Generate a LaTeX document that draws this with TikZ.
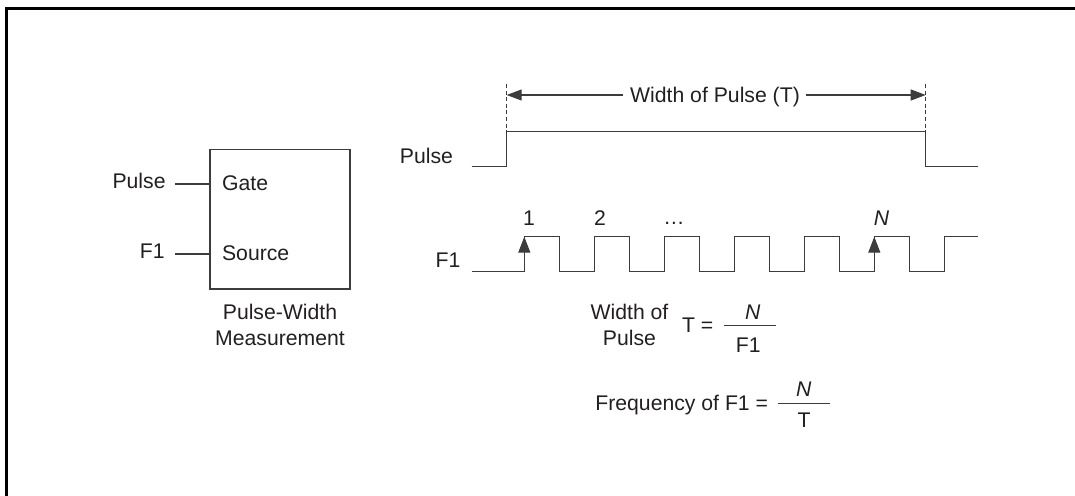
\documentclass[tikz,border=0pt]{standalone}
\usepackage{fontspec}
\setmainfont{Liberation Sans}
\usetikzlibrary{arrows.meta}
\definecolor{ink}{HTML}{231F20}
\definecolor{wirecol}{HTML}{3C3C3C}
\begin{document}
\begin{tikzpicture}[x=0.5pt,y=-0.5pt,
  lbl/.style={inner sep=0pt,text=ink,font=\fontsize{10.6}{12.7}\selectfont},
  wire/.style={draw=wirecol,line width=0.6pt},
  dimtip/.style={-{Triangle[length=7.5pt,width=5.5pt]}},
  edgetip/.style={-{Triangle[length=8pt,width=6pt]}},
  guide/.style={wire,dash pattern=on 2pt off 1.3pt}]
\useasboundingbox (0,0) rectangle (1075,496);
% frame
\draw[black,line width=1.35pt,line join=miter] (6.8,505) -- (6.8,8.7) -- (1085,8.7);

% counter box
\node[draw=wirecol,line width=0.65pt,minimum width=70pt,minimum height=69.85pt,inner sep=0pt] (box) at (280,219.15) {};
\node[lbl,anchor=base east] (pulseL) at (166,188.3) {Pulse};
\node[lbl,anchor=base east] (f1L) at (165,259) {F1};
\coordinate (gateIn) at (175.3,184);
\coordinate (srcIn) at (175.3,254);
\draw[wire] (gateIn) -- (gateIn -| box.west);
\draw[wire] (srcIn) -- (srcIn -| box.west);
\node[lbl,anchor=base west] (gate) at (221.7,190.8) {Gate};
\node[lbl,anchor=base west] (source) at (221.7,260.3) {Source};
\node[lbl,anchor=base] (cap1) at (280,320) {Pulse-Width};
\node[lbl,anchor=base] (cap2) at (280,346) {Measurement};

% pulse waveform
\node[lbl,anchor=base east] (pulseR) at (453.3,163.3) {Pulse};
\draw[wire] (471.7,166.7) -- (506.7,166.7) -- (506.7,131.7) -- (925.7,131.7) -- (925.7,166.7) -- (978,166.7);
\draw[guide] (506.7,84) -- (506.7,131.7);
\draw[guide] (925.7,84) -- (925.7,131.7);
\node[lbl,anchor=base] (wop) at (715,103) {Width of Pulse (T)};
\coordinate (dl) at (506.7,95);
\coordinate (dr) at (925.7,95);
\draw[wire,dimtip] (623,95) -- (dl);
\draw[wire,dimtip] (806,95) -- (dr);

% F1 waveform
\node[lbl,anchor=base east] (f1R) at (460.7,267.7) {F1};
\draw[wire] (471.7,271.7)
  foreach \k in {0,...,5} { -- ({524.3+70*\k},271.7) -- ({524.3+70*\k},236.7) -- ({559.3+70*\k},236.7) -- ({559.3+70*\k},271.7) }
  -- (944.3,271.7) -- (944.3,236.7) -- (978,236.7);
\draw[wire,edgetip] (524.3,256) -- (524.3,236.7);
\draw[wire,edgetip] (874.3,256) -- (874.3,236.7);
\node[lbl,anchor=base] (n1) at (529,225.5) {1};
\node[lbl,anchor=base] (n2) at (600,225.5) {2};
\node[lbl,anchor=base] (ndots) at (674,225) {…};
\node[lbl,anchor=base] (nN) at (881.5,225.5) {\textit{N}};

% formula 1
\node[lbl,anchor=base] (w1) at (629.5,320) {Width of};
\node[lbl,anchor=base] (w2) at (629.5,346) {Pulse};
\node[lbl,anchor=base west] (teq) at (681.7,332.7) {T =};
\coordinate (b1l) at (724,325.7);
\coordinate (b1r) at (776,325.7);
\draw[wire] (b1l) -- (b1r);
\node[lbl,anchor=base] (num1) at (752.8,319.5) {\textit{N}};
\node[lbl,anchor=base] (den1) at (748.3,352) {F1};

% formula 2
\node[lbl,anchor=base west] (freq) at (595,410) {Frequency of F1 =};
\coordinate (b2l) at (778.3,403.3);
\coordinate (b2r) at (830,403.3);
\draw[wire] (b2l) -- (b2r);
\node[lbl,anchor=base] (num2) at (803.8,396) {\textit{N}};
\node[lbl,anchor=base] (den2) at (804,427) {T};
\end{tikzpicture}
\end{document}
